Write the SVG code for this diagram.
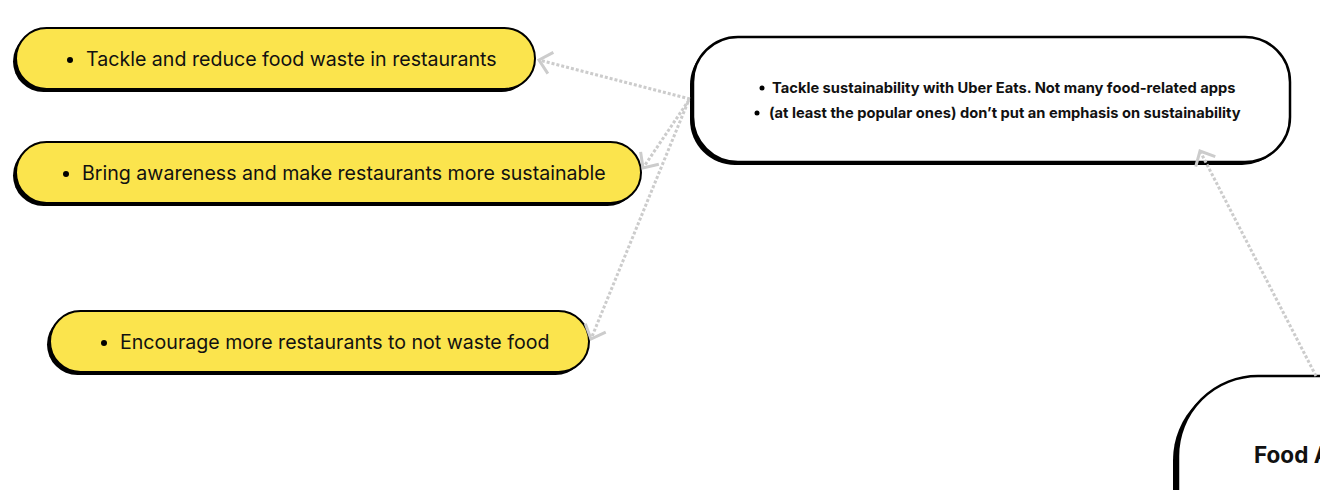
<svg xmlns="http://www.w3.org/2000/svg" width="1320" height="490" viewBox="0 0 1320 490">
<style>
.sh{fill:#000}
.y{fill:#fbe44d;stroke:#000;stroke-width:2}
.w{fill:#fff;stroke:#000;stroke-width:2.5}
.t{font-family:Inter,"Liberation Sans",sans-serif;font-size:19.6px;fill:#111}
.tb{font-family:Inter,"Liberation Sans",sans-serif;font-size:14.7px;font-weight:700;fill:#111}
.tf{font-family:Inter,"Liberation Sans",sans-serif;font-size:22.5px;font-weight:700;fill:#111}
.c{fill:none;stroke:#cccccc;stroke-width:3;stroke-dasharray:3 2}
</style>
<defs>
<marker id="a" markerUnits="userSpaceOnUse" markerWidth="30" markerHeight="30" refX="0" refY="0" viewBox="-15 -15 30 30" orient="auto" overflow="visible">
<path d="M-12,-11 L0,0 L-12,11" fill="none" stroke="#cccccc" stroke-width="3"/>
</marker>
</defs>
<g id="node-reduce">
<rect class="sh" x="13" y="31" width="519" height="61" rx="30.5"/>
<rect class="y" x="16" y="28" width="519" height="61" rx="30.5"/>
<circle cx="70" cy="60" r="3"/>
<text class="t" x="86" y="66">Tackle and reduce food waste in restaurants</text>
</g>
<g id="node-awareness">
<rect class="sh" x="13" y="145" width="625" height="61" rx="30.5"/>
<rect class="y" x="16" y="142" width="625" height="61" rx="30.5"/>
<circle cx="66" cy="174" r="3"/>
<text class="t" x="82" y="180">Bring awareness and make restaurants more sustainable</text>
</g>
<g id="node-encourage">
<rect class="sh" x="47" y="314" width="539" height="61" rx="30.5"/>
<rect class="y" x="50" y="311" width="539" height="61" rx="30.5"/>
<circle cx="104" cy="343" r="3"/>
<text class="t" x="120" y="349">Encourage more restaurants to not waste food</text>
</g>
<g id="node-sustainability">
<rect class="sh" x="690" y="40" width="597" height="125" rx="45"/>
<rect class="w" x="693" y="37" width="597" height="125" rx="45"/>
<circle cx="762" cy="88" r="2.5"/>
<text class="tb" x="772" y="93">Tackle sustainability with Uber Eats. Not many food-related apps</text>
<circle cx="757" cy="113" r="2.5"/>
<text class="tb" x="769" y="118">(at least the popular ones) don’t put an emphasis on sustainability</text>
</g>
<g id="node-food">
<rect class="sh" x="1173" y="380" width="400" height="200" rx="80"/>
<rect class="w" x="1178" y="376" width="400" height="200" rx="80"/>
<text class="tf" x="1254" y="463">Food A</text>
</g>
<g id="connectors">
<line class="c" x1="690" y1="99" x2="539" y2="60" marker-end="url(#a)"/>
<line class="c" x1="689" y1="100" x2="643" y2="168" marker-end="url(#a)"/>
<line class="c" x1="688" y1="102" x2="591" y2="339" marker-end="url(#a)"/>
<line class="c" x1="1316" y1="376" x2="1200" y2="151" marker-end="url(#a)"/>
</g>
</svg>
